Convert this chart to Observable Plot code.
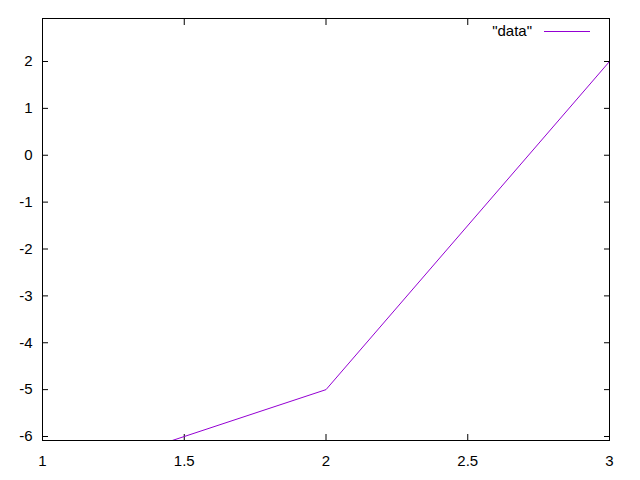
<!DOCTYPE html>
<html>
<head>
<meta charset="utf-8">
<script src="https://cdn.jsdelivr.net/npm/d3@7"></script>
<script src="https://cdn.jsdelivr.net/npm/@observablehq/plot@0.6"></script>
<style>
  html, body { margin: 0; padding: 0; background: #fff; }
  #wrap { position: relative; width: 640px; height: 480px; }
  #legtext { position: absolute; top: 22px; right: 108px; font: 15px "Liberation Sans", Arial, sans-serif; line-height: 18px; }
  #legline { position: absolute; top: 30px; left: 544px; }
</style>
</head>
<body>
<div id="wrap"></div>
<script>
const xs = [1, 2, 3];
const ys = [-7, -5, 2];
const seriesName = "\"data\"";
const xTicks = [1, 1.5, 2, 2.5, 3];
const yTicks = [-6, -5, -4, -3, -2, -1, 0, 1, 2];
const lineColor = "#9400d3";

const data = xs.map((x, i) => ({x, y: ys[i]}));

const chart = Plot.plot({
  width: 640,
  height: 480,
  marginLeft: 42,
  marginRight: 31,
  marginTop: 18,
  marginBottom: 40,
  style: {fontFamily: "'Liberation Sans', Arial, sans-serif", fontSize: "15px", color: "#000", background: "#fff"},
  x: {domain: [1, 3], label: null},
  y: {domain: [-6.085, 2.917], label: null},
  marks: [
    Plot.frame({stroke: "#000", strokeWidth: 1}),
    Plot.axisX(xTicks, {anchor: "bottom", tickSize: 0, tickPadding: 15, tickFormat: d => String(d), label: null}),
    Plot.axisX(xTicks, {anchor: "bottom", tickSize: -6, text: null, label: null}),
    Plot.axisX(xTicks, {anchor: "top", tickSize: -6, text: null, label: null}),
    Plot.axisY(yTicks, {anchor: "left", tickSize: 0, tickPadding: 10, tickFormat: d => String(d), label: null}),
    Plot.axisY(yTicks, {anchor: "left", tickSize: -6, text: null, label: null}),
    Plot.axisY(yTicks, {anchor: "right", tickSize: -6, text: null, label: null}),
    Plot.line(data, {x: "x", y: "y", stroke: lineColor, strokeWidth: 1, clip: true})
  ]
});
const wrap = document.getElementById("wrap");
wrap.appendChild(chart);
const t = document.createElement("div");
t.id = "legtext";
t.textContent = seriesName;
wrap.appendChild(t);
const l = document.createElement("div");
l.id = "legline";
l.innerHTML = `<svg width="46" height="3" style="display:block"><line x1="0" x2="46" y1="1.5" y2="1.5" stroke="${lineColor}" stroke-width="1"/></svg>`;
wrap.appendChild(l);
</script>
</body>
</html>
